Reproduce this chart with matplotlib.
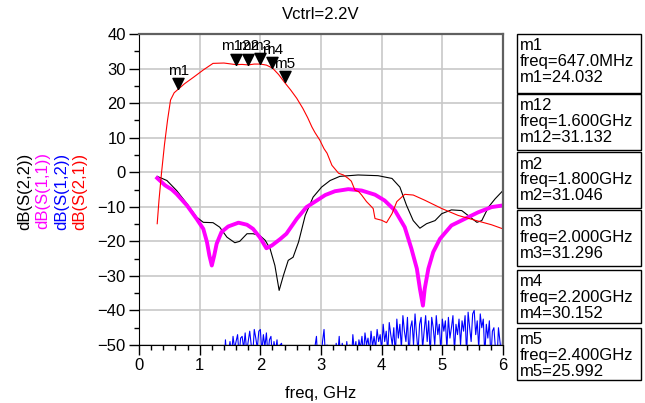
#!/usr/bin/env python3
# s-parameter sweep, Vctrl=2.2V, with marker readouts

import numpy as np
import matplotlib
matplotlib.use("Agg")
import matplotlib.pyplot as plt
from matplotlib.patches import Rectangle
from matplotlib.ticker import MultipleLocator

plt.rcParams['font.family'] = ['Liberation Sans', 'DejaVu Sans']

# -------------------------------
# traces (freq in GHz, value in dB)
# -------------------------------
f_s21 = [0.30, 0.33, 0.37, 0.42, 0.47, 0.52, 0.58, 0.647, 0.75, 0.90,
         1.06, 1.22, 1.40, 1.60, 1.70, 1.80, 1.90, 2.00, 2.10, 2.20,
         2.30, 2.40, 2.50, 2.60, 2.70, 2.78, 2.85, 2.90, 2.98, 3.05,
         3.10, 3.18, 3.29, 3.37, 3.45, 3.50, 3.56, 3.62, 3.67, 3.75,
         3.80, 3.86, 3.89, 4.00, 4.08, 4.17, 4.25, 4.38, 4.52, 4.71,
         4.99, 5.26, 5.54, 5.81, 6.00]
s21 = [-14.9, -8.0, -0.4, 8.0, 15.0, 20.9, 23.0, 24.03, 25.6, 27.5,
       29.6, 31.5, 31.6, 31.13, 31.2, 31.05, 31.3, 31.3, 31.0, 30.15,
       28.3, 25.99, 23.8, 21.4, 18.5, 15.8, 13.1, 11.5, 9.3, 6.8,
       5.5, 2.0, -0.3, -0.8, -1.8, -2.6, -5.2, -5.6, -6.6, -8.5,
       -9.4, -10.5, -13.4, -13.9, -14.6, -12.0, -8.5, -6.4, -6.6, -8.1,
       -10.5, -12.5, -13.9, -15.2, -16.4]

f_s11 = [0.30, 0.43, 0.54, 0.62, 0.79, 0.95, 1.06, 1.12, 1.16, 1.20,
         1.24, 1.28, 1.36, 1.47, 1.64, 1.78, 1.88, 1.99, 2.10, 2.19,
         2.33, 2.43, 2.60, 2.76, 2.93, 3.07, 3.23, 3.45, 3.67, 3.89,
         4.05, 4.22, 4.38, 4.49, 4.58, 4.63, 4.68, 4.71, 4.77, 4.85,
         4.96, 5.15, 5.37, 5.59, 5.81, 6.00]
s11 = [-1.7, -3.8, -5.0, -6.3, -9.6, -13.5, -16.4, -20.2, -24.1, -27.0,
       -24.1, -20.7, -17.3, -15.7, -14.6, -15.2, -16.4, -18.8, -22.0, -21.2,
       -19.3, -17.8, -13.5, -10.1, -8.2, -6.6, -5.5, -4.9, -5.3, -6.5,
       -8.2, -11.1, -15.9, -22.1, -27.9, -33.7, -38.6, -33.7, -27.9, -23.1,
       -19.3, -15.4, -13.5, -11.6, -10.1, -9.6]

f_s22 = [0.30, 0.46, 0.62, 0.79, 0.95, 1.06, 1.22, 1.33, 1.45, 1.58,
         1.66, 1.78, 1.88, 1.99, 2.08, 2.16, 2.24, 2.31, 2.38, 2.46,
         2.54, 2.63, 2.74, 2.87, 3.01, 3.15, 3.31, 3.61, 3.94, 4.17,
         4.30, 4.41, 4.52, 4.63, 4.74, 4.88, 4.99, 5.15, 5.32, 5.46,
         5.57, 5.65, 5.76, 5.87, 6.00]
s22 = [-1.2, -2.4, -5.3, -9.1, -13.0, -14.5, -14.6, -15.9, -18.8, -20.4,
       -20.0, -17.8, -17.8, -18.3, -19.7, -22.1, -27.0, -34.2, -29.9, -25.5,
       -24.6, -20.2, -12.5, -7.2, -4.3, -2.4, -1.2, -0.8, -1.0, -1.8,
       -4.3, -9.6, -14.0, -16.2, -14.9, -14.0, -12.0, -10.9, -11.1, -13.0,
       -14.5, -14.0, -10.1, -7.7, -5.3]

# S12 is noise near the floor, sampled every 25 MHz from 1.4 to 6.0 GHz
s12 = [-58, -48.5, -55, -52, -49, -53, -47.5, -51, -49, -47,
       -53, -48, -47.5, -51, -46.5, -52, -49, -46, -50, -53,
       -45.5, -48, -51, -46, -45.5, -52, -47, -50.5, -46.5, -53,
       -48.5, -47.5, -54, -49, -52, -48.5, -55, -50, -49.5, -56,
       -57,
       -52, -55, -50.5, -57, -53, -58, -52, -56, -54, -58,
       -55, -57, -53, -58, -56, -54, -58, -52, -57,
       -50.5, -47.5, -56, -52, -55, -49, -45.5, -54, -50, -56,
       -51, -55, -50.5, -57, -49.5, -53, -47.5, -55, -49.5, -52,
       -56, -49, -54, -50, -55, -47, -52, -49, -55, -48.5,
       -51, -47.5, -53, -46.5, -50, -48, -52, -46, -50.5, -47.5,
       -51, -45.5, -49, -47, -51.5,
       -44, -49, -46, -52, -43.5, -47, -50, -45, -53, -42.5,
       -48, -44, -51, -41.5, -46, -49, -42, -54, -45, -43,
       -50, -41, -47, -52, -44, -42, -51, -46, -41.5, -49,
       -43, -53, -42, -45, -50, -41.5, -47, -44, -52, -42.5,
       -46, -43, -51, -42, -48, -45, -41.5, -52, -44, -47,
       -42.5, -50, -43, -46, -41.5, -53, -40.5, -45, -49, -41,
       -40, -47, -43, -51, -41, -45, -42.5, -53, -44, -48,
       -43, -54, -46, -45, -51, -55, -45, -49, -53, -47]
f_s12 = np.linspace(1.4, 6.0, len(s12))

# markers on S(2,1)
mk_names = ["m1", "m12", "m2", "m3", "m4", "m5"]
mk_freq = [0.647, 1.6, 1.8, 2.0, 2.2, 2.4]
mk_freq_txt = ["647.0MHz", "1.600GHz", "1.800GHz", "2.000GHz", "2.200GHz", "2.400GHz"]
mk_val = [24.032, 31.132, 31.046, 31.296, 30.152, 25.992]

# -------------------------------
# figure
# -------------------------------
W, H = 645, 403
fig = plt.figure(figsize=(W / 100, H / 100), dpi=100)
ax = fig.add_axes([139 / W, 1 - 345 / H, (503 - 139) / W, (345 - 34) / H])

ax.plot(f_s12, s12, color="#0000ff", lw=0.8)
ax.plot(f_s22, s22, color="black", lw=0.8)
ax.plot(f_s11, s11, color="#ff00ff", lw=2.8)
ax.plot(f_s21, s21, color="#ff0000", lw=0.8)

# down triangles with the tip sitting on the trace
tri = [(0, 0), (-0.5, 1), (0.5, 1), (0, 0)]
ax.plot(mk_freq, mk_val, linestyle="none", marker=tri, markersize=16,
        color="black", clip_on=False)
for name, f, v in zip(mk_names, mk_freq, mk_val):
    ax.annotate(name, (f, v), xytext=(0, 11.5), textcoords="offset pixels",
                ha="center", va="bottom", fontsize=11)

ax.set_xlim(0, 6)
ax.set_ylim(-50, 40)
ax.xaxis.set_major_locator(MultipleLocator(1))
ax.xaxis.set_minor_locator(MultipleLocator(0.2))
ax.yaxis.set_major_locator(MultipleLocator(10))
ax.yaxis.set_minor_locator(MultipleLocator(5))
ax.tick_params(which="major", direction="out", length=7, width=1,
               labelsize=12, pad=2.5)
ax.tick_params(which="minor", direction="out", length=3.5, width=1)
ax.grid(True, which="major", color="#c8c8c8", lw=1.2)
ax.set_axisbelow(True)
for side in ("top", "right"):
    ax.spines[side].set_color("#606060")
    ax.spines[side].set_linewidth(1.6)

ax.set_xlabel("freq, GHz", fontsize=12, labelpad=9)
ax.set_title("Vctrl=2.2V", fontsize=12, pad=11)

# stacked, coloured y labels
ylabs = [("dB(S(2,2))", "black", 25), ("dB(S(1,1))", "#ff00ff", 43),
         ("dB(S(1,2))", "#0000ff", 62), ("dB(S(2,1))", "#ff0000", 80)]
for txt, col, xp in ylabs:
    fig.text(xp / W, 1 - 191 / H, txt, color=col, rotation=90,
             ha="center", va="center", fontsize=12)

# marker readout boxes
box_top = [34, 94, 152, 210, 270, 328]
box_h = [59, 56, 56, 56, 53, 52]
for name, ftxt, v, top, h in zip(mk_names, mk_freq_txt, mk_val, box_top, box_h):
    fig.patches.append(Rectangle((517 / W, 1 - (top + h) / H), 124 / W, h / H,
                                 transform=fig.transFigure, fill=False,
                                 edgecolor="black", lw=1))
    lines = [name, f"freq={ftxt}", f"{name}={v:.3f}"]
    for i, ln in enumerate(lines):
        fig.text(520 / W, 1 - (top + 12 + 15.5 * i) / H, ln,
                 ha="left", va="center", fontsize=12)

fig.savefig("out.png", dpi=100)
